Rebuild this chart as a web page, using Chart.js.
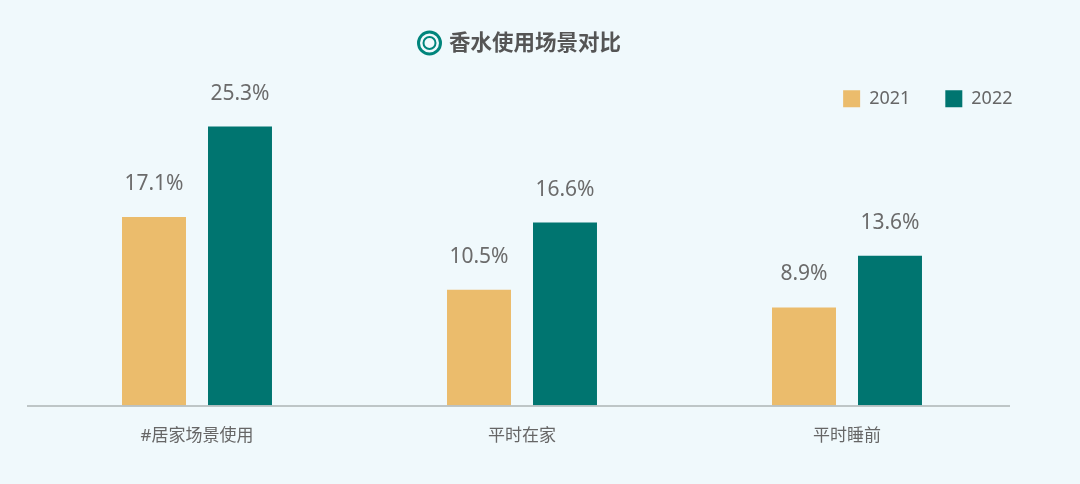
<!DOCTYPE html>
<html>
<head>
<meta charset="utf-8">
<style>
  html, body { margin: 0; padding: 0; background: #f0f9fc; }
  canvas { display: block; }
</style>
<script src="https://cdn.jsdelivr.net/npm/chart.js@4/dist/chart.umd.min.js"></script>
</head>
<body>
<canvas id="sceneChart" width="1080" height="484"></canvas>
<script>
const categories = ['#居家场景使用', '平时在家', '平时睡前'];
const values2021 = [17.1, 10.5, 8.9];
const values2022 = [25.3, 16.6, 13.6];

const latin = '"Noto Sans", "Noto Sans CJK SC", sans-serif';

// Nudge title and legend, the bars need a different centre than they do
const blockShift = {
  id: 'blockShift',
  afterLayout(chart) {
    chart.titleBlock.left += 13;
    chart.titleBlock.right += 13;
    chart.legend.left += 38;
    chart.legend.right += 38;
  },
};

// Ring in front of the title and the long baseline
const decorations = {
  id: 'decorations',
  afterDatasetsDraw(chart) {
    const { ctx, scales } = chart;
    ctx.save();
    ctx.strokeStyle = '#aeb4b6';
    ctx.lineWidth = 1.5;
    ctx.beginPath();
    ctx.moveTo(27, scales.y.getPixelForValue(0) + 0.5);
    ctx.lineTo(1010, scales.y.getPixelForValue(0) + 0.5);
    ctx.stroke();

    ctx.strokeStyle = '#00857c';
    ctx.lineWidth = 3;
    ctx.beginPath();
    ctx.arc(429.5, 43, 11, 0, Math.PI * 2);
    ctx.stroke();
    ctx.lineWidth = 2;
    ctx.beginPath();
    ctx.arc(429.5, 43, 6, 0, Math.PI * 2);
    ctx.stroke();
    ctx.restore();
  },
};

// Value labels above the bars
const valueLabels = {
  id: 'valueLabels',
  afterDatasetsDraw(chart) {
    const { ctx } = chart;
    ctx.save();
    ctx.font = '21px ' + latin;
    ctx.fillStyle = '#6b6b6b';
    ctx.textAlign = 'center';
    ctx.textBaseline = 'alphabetic';
    chart.data.datasets.forEach((ds, i) => {
      chart.getDatasetMeta(i).data.forEach((bar, j) => {
        ctx.fillText(ds.data[j].toFixed(1) + '%', bar.x, bar.y - 27);
      });
    });
    ctx.restore();
  },
};

new Chart(document.getElementById('sceneChart'), {
  type: 'bar',
  data: {
    labels: categories,
    datasets: [
      { label: '2021', data: values2021, backgroundColor: '#ebbc6c' },
      { label: '2022', data: values2022, backgroundColor: '#007570' },
    ],
  },
  options: {
    responsive: false,
    animation: false,
    categoryPercentage: 0.5292,
    barPercentage: 0.744,
    layout: { padding: { left: 34.5, right: 70.5, top: 0, bottom: 26 } },
    scales: {
      x: {
        grid: { display: false },
        border: { display: false },
        ticks: {
          color: '#666666',
          padding: 12,
          font: { size: 17, family: latin },
        },
      },
      y: { display: false, min: 0, max: 26.1 },
    },
    plugins: {
      title: {
        display: true,
        text: '香水使用场景对比',
        color: '#555555',
        padding: { top: 29, bottom: 0 },
        font: { size: 21.5, weight: 'bold', family: '"Noto Sans CJK SC", sans-serif' },
      },
      legend: {
        position: 'top',
        align: 'end',
        labels: {
          boxWidth: 17,
          boxHeight: 17,
          padding: 35,
          color: '#666666',
          font: { size: 18, family: latin },
        },
      },
      tooltip: { enabled: false },
    },
  },
  plugins: [blockShift, decorations, valueLabels],
});
</script>
</body>
</html>
